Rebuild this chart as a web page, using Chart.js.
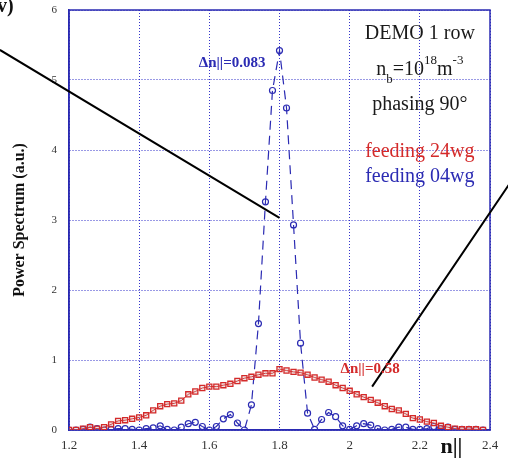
<!DOCTYPE html>
<html>
<head>
<meta charset="utf-8">
<script src="https://cdn.jsdelivr.net/npm/chart.js@4/dist/chart.umd.min.js"></script>
<style>
  html, body { margin: 0; padding: 0; background: #fff; }
  #wrap { width: 508px; height: 466px; position: relative; }
</style>
</head>
<body>
<div id="wrap"><canvas id="chart"></canvas></div>
<script>
// n|| sample points
const nPar = [1.20, 1.22, 1.24, 1.26, 1.28, 1.30, 1.32, 1.34, 1.36, 1.38,
              1.40, 1.42, 1.44, 1.46, 1.48, 1.50, 1.52, 1.54, 1.56, 1.58,
              1.60, 1.62, 1.64, 1.66, 1.68, 1.70, 1.72, 1.74, 1.76, 1.78,
              1.80, 1.82, 1.84, 1.86, 1.88, 1.90, 1.92, 1.94, 1.96, 1.98,
              2.00, 2.02, 2.04, 2.06, 2.08, 2.10, 2.12, 2.14, 2.16, 2.18,
              2.20, 2.22, 2.24, 2.26, 2.28, 2.30, 2.32, 2.34, 2.36, 2.38];

// feeding 24wg (red squares)
const feed24 = [0.00, 0.00, 0.02, 0.04, 0.02, 0.04, 0.08, 0.13, 0.14, 0.16,
                0.18, 0.21, 0.28, 0.34, 0.37, 0.38, 0.42, 0.51, 0.55, 0.60,
                0.62, 0.62, 0.64, 0.66, 0.70, 0.74, 0.76, 0.79, 0.81, 0.81,
                0.87, 0.85, 0.83, 0.82, 0.79, 0.75, 0.72, 0.69, 0.64, 0.60,
                0.56, 0.51, 0.47, 0.43, 0.39, 0.34, 0.30, 0.28, 0.23, 0.17,
                0.15, 0.12, 0.10, 0.06, 0.04, 0.02, 0.01, 0.01, 0.01, 0.00];

// feeding 04wg (blue circles)
const feed04 = [0.00, 0.00, 0.01, 0.04, 0.02, 0.00, 0.01, 0.02, 0.02, 0.01,
                0.00, 0.02, 0.03, 0.06, 0.01, 0.00, 0.04, 0.09, 0.11, 0.05,
                0.00, 0.05, 0.16, 0.22, 0.10, 0.00, 0.36, 1.52, 3.26, 4.85,
                5.42, 4.60, 2.93, 1.24, 0.24, 0.01, 0.15, 0.25, 0.19, 0.06,
                0.01, 0.06, 0.09, 0.07, 0.02, 0.00, 0.01, 0.04, 0.04, 0.01,
                0.01, 0.02, 0.05, 0.02, 0.04, 0.01, 0.01, 0.01, 0.01, 0.00];

const xTicks = ['1.2', '1.4', '1.6', '1.8', '2', '2.2', '2.4'];
const yTicks = ['0', '1', '2', '3', '4', '5', '6'];

const BLUE = '#2b2bb3';
const RED = '#d42a2a';
const SERIF = '"Liberation Serif", "Times New Roman", serif';

const toPoints = vals => vals.map((v, i) => ({ x: nPar[i], y: v }));

// solid frame round the plot area
const frame = {
  id: 'frame',
  beforeDatasetsDraw(chart) {
    const { ctx, chartArea: a } = chart;
    ctx.save();
    ctx.strokeStyle = BLUE;
    ctx.lineWidth = 1.5;
    ctx.strokeRect(a.left, a.top, a.right - a.left, a.bottom - a.top);
    ctx.restore();
  }
};

// text and pointer lines, placed in data coordinates
const annotate = {
  id: 'annotate',
  afterDraw(chart) {
    const { ctx } = chart;
    const xs = chart.scales.x, ys = chart.scales.y;
    const px = v => xs.getPixelForValue(v);
    const py = v => ys.getPixelForValue(v);
    ctx.save();

    // black pointer lines
    ctx.strokeStyle = '#000';
    ctx.lineWidth = 2;
    ctx.beginPath();
    ctx.moveTo(px(1.003), py(5.43));
    ctx.lineTo(px(1.8), py(3.03));
    ctx.moveTo(px(2.064), py(0.62));
    ctx.lineTo(px(2.46), py(3.55));
    ctx.stroke();

    // width labels
    ctx.font = 'bold 15px ' + SERIF;
    ctx.textBaseline = 'alphabetic';
    ctx.fillStyle = BLUE;
    ctx.textAlign = 'right';
    ctx.fillText('\u0394n||=0.083', px(1.76), py(5.19));
    ctx.fillStyle = RED;
    ctx.textAlign = 'left';
    ctx.fillText('\u0394n||=0.58', px(1.974), py(0.81));

    // info block
    const cx = px(2.2);
    ctx.textAlign = 'center';
    ctx.font = '20px ' + SERIF;
    ctx.fillStyle = '#1a1a1a';
    ctx.fillText('DEMO 1 row', cx, py(5.59));
    ctx.fillText('phasing 90\u00b0', cx, py(4.57));
    ctx.fillStyle = RED;
    ctx.fillText('feeding 24wg', cx, py(3.9));
    ctx.fillStyle = BLUE;
    ctx.fillText('feeding 04wg', cx, py(3.54));

    // n_b = 10^18 m^-3
    const big = '20px ' + SERIF, small = '13px ' + SERIF;
    const parts = [
      ['n', big, 0], ['b', small, 8], ['=10', big, 0],
      ['18', small, -11], ['m', big, 0], ['-3', small, -11]
    ];
    let w = 0;
    parts.forEach(p => { ctx.font = p[1]; w += ctx.measureText(p[0]).width; });
    let x = cx - w / 2;
    const base = py(5.07);
    ctx.fillStyle = '#1a1a1a';
    ctx.textAlign = 'left';
    parts.forEach(p => {
      ctx.font = p[1];
      ctx.fillText(p[0], x, base + p[2]);
      x += ctx.measureText(p[0]).width;
    });

    // x axis name
    ctx.font = 'bold 22px ' + SERIF;
    ctx.textAlign = 'center';
    ctx.fillStyle = '#111';
    ctx.fillText('n||', px(2.29), chart.chartArea.bottom + 23);

    // clipped panel label in the corner
    ctx.font = 'bold 20px ' + SERIF;
    ctx.textAlign = 'left';
    ctx.fillText('v)', -3, 12);

    ctx.restore();
  }
};

const grid = {
  color: 'rgba(40, 40, 200, 0.95)',
  lineWidth: 1,
  drawTicks: false
};

new Chart(document.getElementById('chart'), {
  type: 'scatter',
  data: {
    datasets: [
      {
        label: 'feeding 24wg',
        data: toPoints(feed24),
        showLine: true,
        borderColor: RED,
        borderWidth: 1,
        pointStyle: 'rect',
        pointRadius: 3.6,
        pointBorderWidth: 1.3,
        pointBorderColor: RED,
        pointBackgroundColor: 'rgba(190, 140, 140, 0.25)'
      },
      {
        label: 'feeding 04wg',
        data: toPoints(feed04),
        showLine: true,
        borderColor: BLUE,
        borderWidth: 1.2,
        borderDash: [9, 6],
        pointStyle: 'circle',
        pointRadius: 3,
        pointBorderWidth: 1.2,
        pointBorderColor: BLUE,
        pointBackgroundColor: 'rgba(255, 255, 255, 0)'
      }
    ]
  },
  options: {
    responsive: true,
    maintainAspectRatio: false,
    animation: false,
    layout: { padding: { top: 10, right: 18, left: 0, bottom: 0 } },
    plugins: {
      legend: { display: false },
      tooltip: { enabled: false }
    },
    scales: {
      x: {
        type: 'linear',
        min: 1.2,
        max: 2.4,
        grid: { ...grid },
        border: { color: BLUE, width: 1.5, dash: [1, 2] },
        ticks: {
          stepSize: 0.2,
          padding: 8,
          color: '#333',
          font: { family: SERIF, size: 13 },
          callback: (v, i) => xTicks[i]
        },
        afterFit: s => { s.height = 36; s.paddingLeft = 0; s.paddingRight = 0; }
      },
      y: {
        min: 0,
        max: 6,
        grid: { ...grid },
        border: { color: BLUE, width: 1.5, dash: [1, 2] },
        ticks: {
          stepSize: 1,
          padding: 12,
          color: '#333',
          font: { family: SERIF, size: 11 },
          callback: (v, i) => yTicks[i]
        },
        title: {
          display: true,
          text: 'Power Spectrum (a.u.)',
          color: '#111',
          font: { family: SERIF, size: 16, weight: 'bold' },
          padding: { top: 10, bottom: 0 }
        },
        afterFit: s => { s.width = 69; s.paddingTop = 0; s.paddingBottom = 0; }
      }
    }
  },
  plugins: [frame, annotate]
});
</script>
</body>
</html>
